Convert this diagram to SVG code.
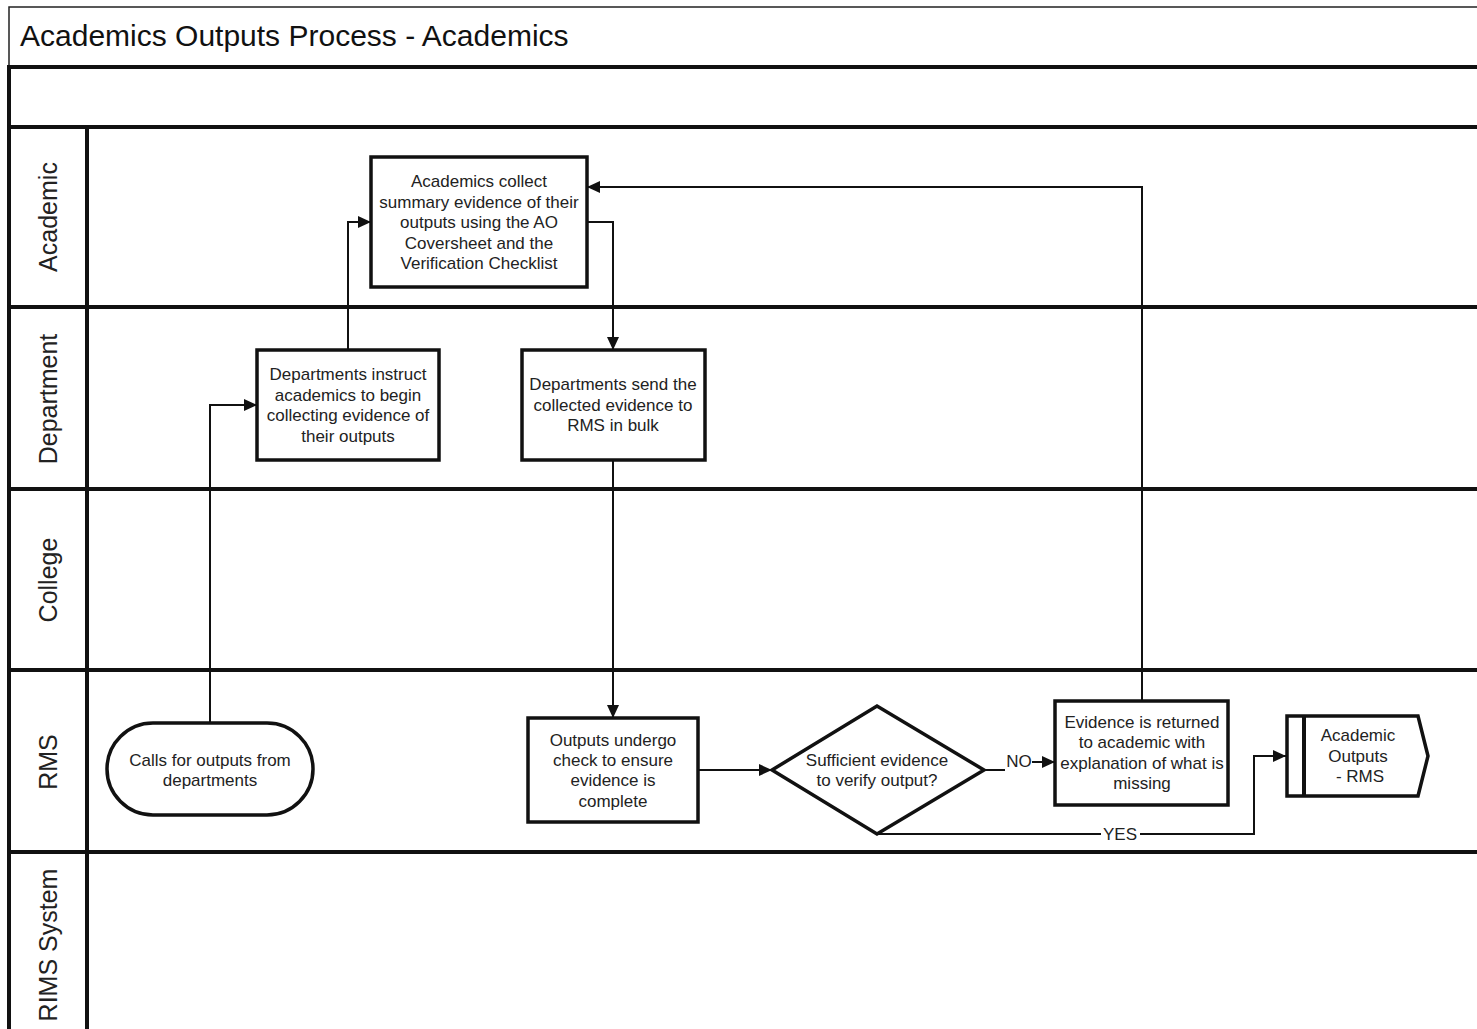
<svg xmlns="http://www.w3.org/2000/svg" width="1477" height="1029" viewBox="0 0 1477 1029">
<defs>
<marker id="arr" markerUnits="userSpaceOnUse" markerWidth="13" markerHeight="12" refX="13" refY="6" orient="auto">
<path d="M0,0 L13,6 L0,12 Z" fill="#111"/>
</marker>
<style>
.lane{stroke:#111;stroke-width:4;fill:none}
.thin{stroke:#222;stroke-width:1.5;fill:none}
.box{fill:#fff;stroke:#111;stroke-width:3.5}
.conn{fill:none;stroke:#111;stroke-width:2;marker-end:url(#arr)}
.plain{fill:none;stroke:#111;stroke-width:2}
.t{font-family:"Liberation Sans",Arial,sans-serif;font-size:17px;fill:#222;text-anchor:middle}
.lbl{font-family:"Liberation Sans",Arial,sans-serif;font-size:25px;fill:#222;text-anchor:middle}
.title{font-family:"Liberation Sans",Arial,sans-serif;font-size:30px;fill:#111}
</style>
</defs>
<rect width="1477" height="1029" fill="#fff"/>
<g id="pool">
<path class="thin" d="M9,67 L9,7 L1477,7"/>
<text class="title" x="20" y="46">Academics Outputs Process - Academics</text>
<path class="lane" d="M9,67 L1477,67 M9,127 L1477,127 M9,307 L1477,307 M9,489 L1477,489 M9,670 L1477,670 M9,852 L1477,852 M9,65 L9,1029 M87,127 L87,1029"/>
<text class="lbl" transform="translate(57,217) rotate(-90)">Academic</text>
<text class="lbl" transform="translate(57,399) rotate(-90)">Department</text>
<text class="lbl" transform="translate(57,580) rotate(-90)">College</text>
<text class="lbl" transform="translate(57,762) rotate(-90)">RMS</text>
<text class="lbl" transform="translate(57,945) rotate(-90)">RIMS System</text>
</g>
<g id="connectors">
<path class="conn" d="M210,723 L210,405 L257,405"/>
<path class="conn" d="M348,350 L348,222 L371,222"/>
<path class="conn" d="M587,222 L613,222 L613,350"/>
<path class="conn" d="M613,460 L613,718"/>
<path class="conn" d="M698,770 L772,770"/>
<path class="plain" d="M984,770 L1005,770"/>
<path class="conn" d="M1032,762 L1055,762"/>
<text class="t" x="1019" y="767">NO</text>
<path class="plain" d="M877,834 L1101,834"/>
<path class="conn" d="M1140,834 L1254,834 L1254,756 L1286,756"/>
<text class="t" x="1120" y="840">YES</text>
<path class="conn" d="M1142,700 L1142,187 L587,187"/>
</g>
<g id="n_collect">
<rect class="box" x="371" y="157" width="216" height="130"/>
<text class="t" x="479" y="187">Academics collect</text>
<text class="t" x="479" y="207.5">summary evidence of their</text>
<text class="t" x="479" y="228">outputs using the AO</text>
<text class="t" x="479" y="248.5">Coversheet and the</text>
<text class="t" x="479" y="269">Verification Checklist</text>
</g>
<g id="n_instruct">
<rect class="box" x="257" y="350" width="182" height="110"/>
<text class="t" x="348" y="380">Departments instruct</text>
<text class="t" x="348" y="400.5">academics to begin</text>
<text class="t" x="348" y="421">collecting evidence of</text>
<text class="t" x="348" y="441.5">their outputs</text>
</g>
<g id="n_send">
<rect class="box" x="522" y="350" width="183" height="110"/>
<text class="t" x="613" y="390">Departments send the</text>
<text class="t" x="613" y="411">collected evidence to</text>
<text class="t" x="613" y="431">RMS in bulk</text>
</g>
<g id="n_calls">
<rect class="box" x="107" y="723" width="206" height="92" rx="46" ry="46"/>
<text class="t" x="210" y="766">Calls for outputs from</text>
<text class="t" x="210" y="786">departments</text>
</g>
<g id="n_check">
<rect class="box" x="528" y="718" width="170" height="104"/>
<text class="t" x="613" y="746">Outputs undergo</text>
<text class="t" x="613" y="766">check to ensure</text>
<text class="t" x="613" y="786">evidence is</text>
<text class="t" x="613" y="807">complete</text>
</g>
<g id="n_decision">
<polygon class="box" points="772,770 877,706 984,770 877,834"/>
<text class="t" x="877" y="766">Sufficient evidence</text>
<text class="t" x="877" y="786">to verify output?</text>
</g>
<g id="n_return">
<rect class="box" x="1055" y="701" width="173" height="104"/>
<text class="t" x="1142" y="728">Evidence is returned</text>
<text class="t" x="1142" y="748">to academic with</text>
<text class="t" x="1142" y="769">explanation of what is</text>
<text class="t" x="1142" y="789">missing</text>
</g>
<g id="n_offpage">
<path class="box" d="M1287,716 L1418,716 L1428,756 L1418,796 L1287,796 Z"/>
<path class="lane" d="M1304,716 L1304,796"/>
<text class="t" x="1358" y="741">Academic</text>
<text class="t" x="1358" y="762">Outputs</text>
<text class="t" x="1360" y="782">- RMS</text>
</g>
</svg>
